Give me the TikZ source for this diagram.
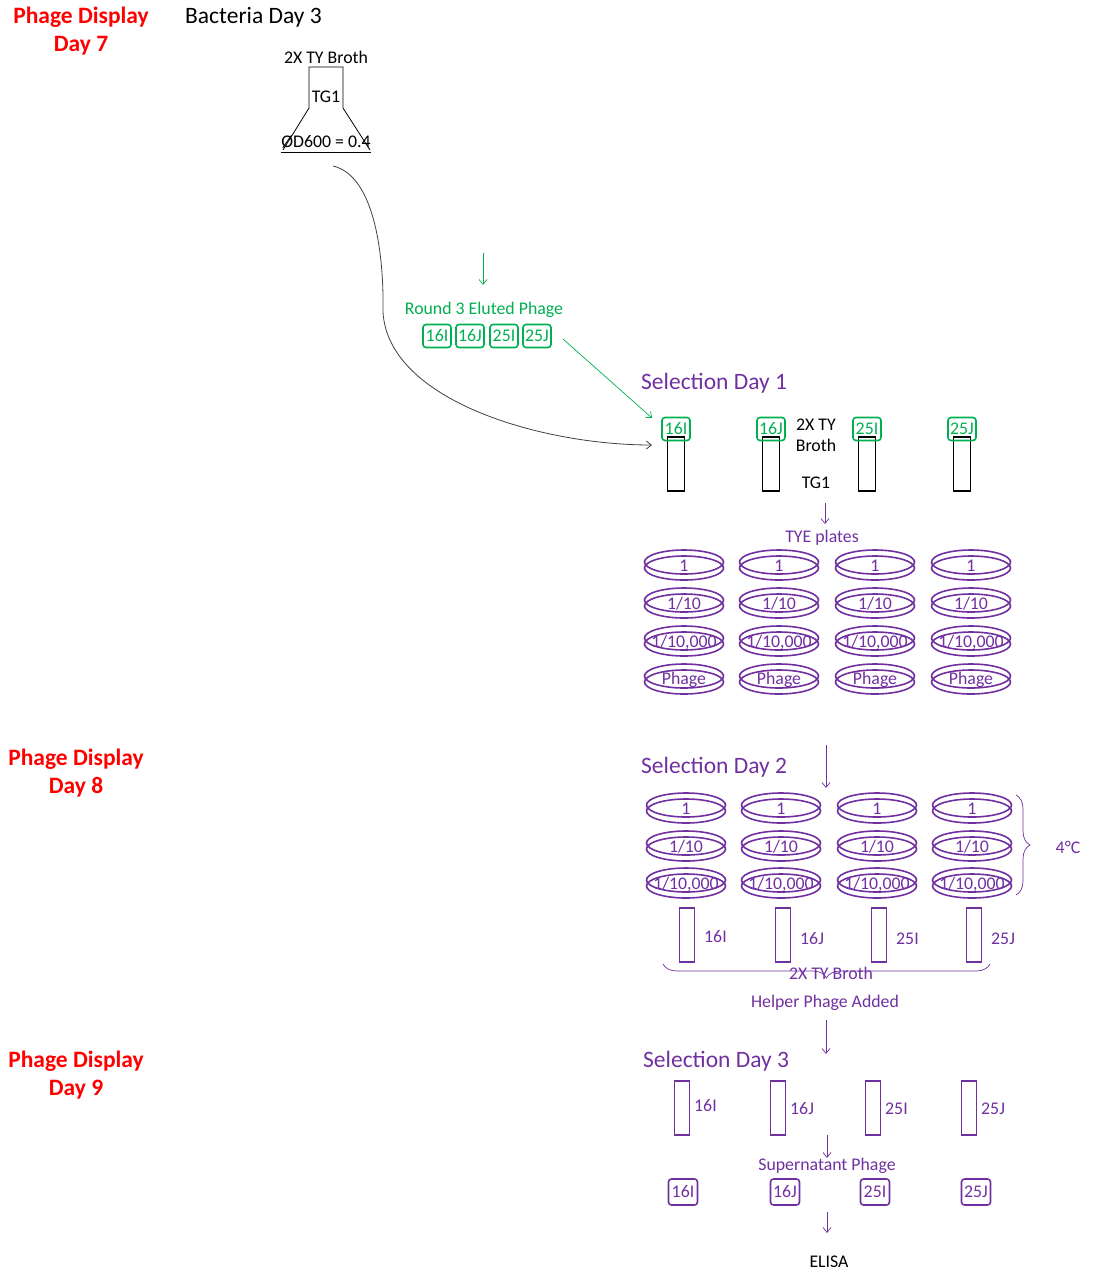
\documentclass[tikz,border=0pt]{standalone}
\usepackage{fontspec}
\setmainfont{Carlito}
\usetikzlibrary{arrows.meta,decorations.pathreplacing}
\definecolor{pgreen}{RGB}{0,176,80}
\definecolor{ppurple}{RGB}{112,48,160}
\definecolor{pred}{RGB}{255,0,0}
\begin{document}
\begin{tikzpicture}[x=1pt,y=-1pt,
  daytitle/.style={text=pred,font=\fontsize{23.5}{27.5}\selectfont\bfseries,align=center},
  seltitle/.style={text=ppurple,font=\fontsize{23.5}{27}\selectfont,anchor=west,inner sep=0pt},
  lbl/.style={font=\fontsize{17.8}{21}\selectfont,inner sep=0pt},
  plbl/.style={lbl,text=ppurple},
  glbl/.style={lbl,text=pgreen},
  gtag/.style={draw=pgreen,line width=1.6pt,rounded corners=3pt,text=pgreen,minimum width=28pt,minimum height=23pt,inner sep=0pt,font=\fontsize{17.8}{21}\selectfont},
  ptag/.style={draw=ppurple,line width=1.6pt,rounded corners=3pt,text=ppurple,minimum width=29pt,minimum height=26pt,inner sep=0pt,font=\fontsize{17.8}{21}\selectfont},
  btube/.style={draw=black,line width=1.8pt,minimum width=17pt,minimum height=54pt,inner sep=0pt},
  ptube/.style={draw=ppurple,line width=1.8pt,minimum width=15pt,minimum height=54pt,inner sep=0pt},
  parr/.style={draw=ppurple,-{Straight Barb[length=5pt,width=8pt]},line width=0.7pt},
  garr/.style={draw=pgreen,-{Straight Barb[length=5pt,width=8pt]},line width=0.7pt},
  plate/.style={draw=ppurple,line width=1.6pt},
  brc/.style={draw=ppurple,line width=0.7pt,decorate,decoration={brace,amplitude=14pt}}
]
\useasboundingbox (0,0) rectangle (1094,1275);
% left titles
\node[daytitle] (d7) at (81,31) {Phage Display\\Day 7};
\node[daytitle] (d8) at (76,773) {Phage Display\\Day 8};
\node[daytitle] (d9) at (76,1075) {Phage Display\\Day 9};
\node[font=\fontsize{23.5}{27}\selectfont,anchor=west,inner sep=0pt] (bact) at (185,17) {Bacteria Day 3};
% flask
\node[lbl] (broth0) at (326,57) {2X TY Broth};
\node[lbl] (tg0) at (326,97) {TG1};
\node[lbl] (od) at (326,142) {ØD600 = 0.4};
\draw[line width=0.8pt] (309,108) -- (309,67) -- (343,67) -- (343,108) -- (370,150);
\draw[line width=0.8pt] (309,108) -- (283,150);
\draw[line width=0.8pt] (281,152) -- (371,152);
\coordinate (fl) at (333,166);
\coordinate (t1in) at (652,445);
\draw[line width=0.8pt,draw=black!75,-{Straight Barb[length=5pt,width=8pt]}] (fl) .. controls (376,176) and (384,260) .. (383,312) .. controls (388,400) and (540,445) .. (t1in);
% round 3 eluted phage
\coordinate (ga) at (483,253);
\coordinate (gb) at (483,285);
\draw[garr] (ga) -- (gb);
\node[glbl] (r3) at (484,310) {Round 3 Eluted Phage};
\node[gtag] (e1) at (437,336) {16I};
\node[gtag] (e2) at (470,336) {16J};
\node[gtag] (e3) at (504,336) {25I};
\node[gtag] (e4) at (537,336) {25J};
\coordinate (gs) at (563,339);
\coordinate (ge) at (652,418);
\draw[garr] (gs) -- (ge);
% selection day 1
\node[seltitle] (s1) at (641,383) {Selection Day 1};
\foreach \x/\t [count=\i] in {676/16I,771/16J,867/25I,962/25J}{
  \node[btube] (bt\i) at (\x,464) {};
  \node[gtag] (gt\i) at (\x,429) {\t};
}
\node[lbl,align=center] (broth1) at (816,435) {2X TY\\Broth};
\node[lbl] (tg1) at (816,483) {TG1};
\coordinate (a1s) at (825,503);
\coordinate (a1e) at (825,524);
\draw[parr] (a1s) -- (a1e);
\node[plbl] (tye) at (822,538) {TYE plates};
\foreach \x [count=\i] in {684,779,875,971}{
  \foreach \y/\t [count=\j] in {565/1,603/1\slash10,641/1\slash10{,}000,679/Phage}{
    \draw[plate] (\x,\y-3) ellipse[x radius=39.5,y radius=12];
    \draw[plate] (\x,\y+3) ellipse[x radius=39.5,y radius=12];
    \node[plbl] (pa\i\j) at (\x,\y+1) {\t};
  }
}
% selection day 2
\coordinate (a2s) at (826,745);
\coordinate (a2e) at (826,788);
\draw[parr] (a2s) -- (a2e);
\node[seltitle] (s2) at (641,767) {Selection Day 2};
\foreach \x [count=\i] in {686,781,877,972}{
  \foreach \y/\t [count=\j] in {808/1,846/1\slash10,883/1\slash10{,}000}{
    \draw[plate] (\x,\y-3) ellipse[x radius=39.5,y radius=12];
    \draw[plate] (\x,\y+3) ellipse[x radius=39.5,y radius=12];
    \node[plbl] (pb\i\j) at (\x,\y+1) {\t};
  }
}
\coordinate (bra) at (1016,795);
\coordinate (brb) at (1016,895);
\draw[brc] (bra) -- (brb);
\node[plbl] (c4) at (1068,847) {4°C};
\foreach \x/\t/\ly [count=\i] in {687/16I/937,783/16J/939,879/25I/939,974/25J/939}{
  \node[ptube] (pt\i) at (\x,935) {};
  \node[plbl,anchor=west] (ptl\i) at (\x+17,\ly) {\t};
}
\coordinate (bba) at (990,964);
\coordinate (bbb) at (663,964);
\draw[brc,decoration={brace,amplitude=14pt}] (bba) -- (bbb);
\node[plbl] (broth2) at (831,973) {2X TY Broth};
\node[plbl] (help) at (825,1003) {Helper Phage Added};
\coordinate (a3s) at (826,1020);
\coordinate (a3e) at (826,1054);
\draw[parr] (a3s) -- (a3e);
% selection day 3
\node[seltitle] (s3) at (643,1061) {Selection Day 3};
\foreach \x/\t/\ly [count=\i] in {682/16I/1106,778/16J/1109,873/25I/1109,969/25J/1109}{
  \node[ptube] (qt\i) at (\x,1108) {};
  \node[plbl,anchor=west] (qtl\i) at (\x+12,\ly) {\t};
}
\coordinate (a4s) at (827,1135);
\coordinate (a4e) at (827,1158);
\draw[parr] (a4s) -- (a4e);
\node[plbl] (sup) at (827,1166) {Supernatant Phage};
\foreach \x/\t [count=\i] in {683/16I,785/16J,875/25I,976/25J}{
  \node[ptag] (sp\i) at (\x,1192) {\t};
}
\coordinate (a5s) at (827,1212);
\coordinate (a5e) at (827,1233);
\draw[parr] (a5s) -- (a5e);
\node[lbl] (elisa) at (829,1262) {ELISA};
\end{tikzpicture}
\end{document}
